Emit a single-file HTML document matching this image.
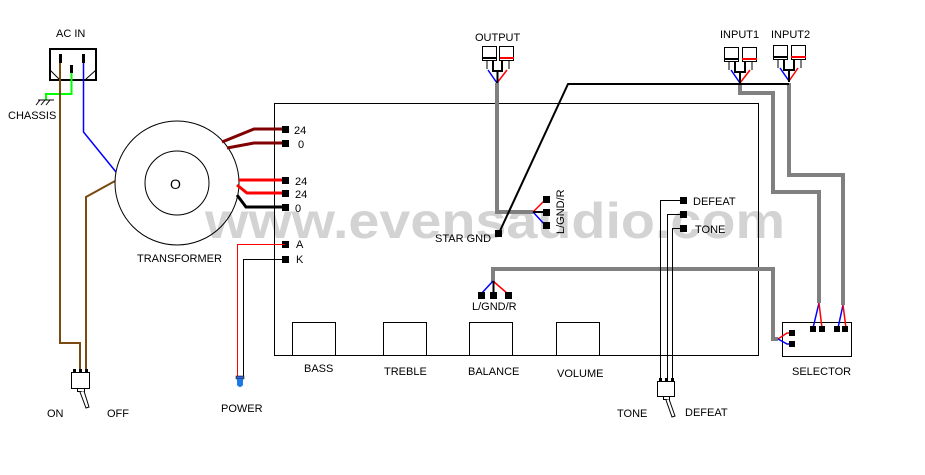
<!DOCTYPE html>
<html><head><meta charset="utf-8"><style>
html,body{margin:0;padding:0;background:#fff;}
svg{display:block;}
text{font-family:"Liberation Sans",sans-serif;font-size:11px;fill:#000;}
</style></head><body>
<svg width="925" height="475" viewBox="0 0 925 475" xmlns="http://www.w3.org/2000/svg">
<rect width="925" height="475" fill="#fff"/>
<!-- watermark -->
<text x="205" y="238" style="font-size:50px;font-weight:bold;fill:#d3d3d3" textLength="580" lengthAdjust="spacingAndGlyphs">www.evensaudio.com</text>

<!-- main box -->
<rect x="274.5" y="103.5" width="484" height="252" fill="none" stroke="#000"/>
<!-- knobs -->
<g fill="none" stroke="#000">
<rect x="292.5" y="322.5" width="43" height="33"/>
<rect x="383.5" y="322.5" width="43" height="33"/>
<rect x="469.5" y="322.5" width="43" height="33"/>
<rect x="556.5" y="322.5" width="43" height="33"/>
</g>
<text x="304" y="372">BASS</text>
<text x="384" y="375">TREBLE</text>
<text x="468" y="375">BALANCE</text>
<text x="557" y="377">VOLUME</text>

<!-- AC IN -->
<text x="56" y="37">AC IN</text>
<rect x="50" y="49" width="46" height="31" fill="none" stroke="#000" stroke-width="2"/>
<path d="M50 70 L59 79 M96 70 L86 79" stroke="#000" fill="none"/>
<rect x="59" y="54" width="3" height="9" fill="#000"/>
<rect x="82" y="54" width="3" height="9" fill="#000"/>
<rect x="70" y="65" width="3" height="8" fill="#000"/>
<path d="M71.5 73 V94 H46 V100" stroke="#0f0" stroke-width="2" fill="none"/>
<path d="M38 100 H54 M40 100 L36 105 M45 100 L41 105 M50 100 L46 105" stroke="#000" fill="none"/>
<text x="8" y="119">CHASSIS</text>
<path d="M83.5 63 V132 L116 172" stroke="#00f" stroke-width="1.5" fill="none"/>
<path d="M60 63 V343 H80 V372" stroke="#7b4a12" stroke-width="2" fill="none"/>
<path d="M115 181 L86 197 V372" stroke="#7b4a12" stroke-width="2" fill="none"/>
<!-- left switch -->
<rect x="71.5" y="372.5" width="18" height="16" fill="#fff" stroke="#000"/>
<rect x="73" y="369" width="3" height="4" fill="#000"/><rect x="79" y="369" width="3" height="4" fill="#000"/><rect x="85" y="369" width="3" height="4" fill="#000"/>
<rect x="77.5" y="388.5" width="7" height="3" fill="#fff" stroke="#000"/>
<path d="M80 392 L86 408 L89 407 L84 391" fill="#fff" stroke="#000"/>
<text x="47" y="417">ON</text>
<text x="107" y="417">OFF</text>

<!-- transformer -->
<circle cx="177" cy="183" r="62" fill="none" stroke="#000"/>
<circle cx="177" cy="183" r="32" fill="none" stroke="#000"/>
<text x="170" y="189" style="font-size:14px">O</text>
<text x="137" y="262">TRANSFORMER</text>
<path d="M222 142 L254 129 H285" stroke="#800000" stroke-width="3" fill="none"/>
<path d="M227 148 L254 143 H285" stroke="#800000" stroke-width="3" fill="none"/>
<path d="M239 180 H285" stroke="#f00" stroke-width="3" fill="none"/>
<path d="M237 185 L247 193 H285" stroke="#f00" stroke-width="3" fill="none"/>
<path d="M237 195 L246 207 H285" stroke="#000" stroke-width="3" fill="none"/>
<g fill="#000">
<rect x="282" y="126" width="7" height="7"/><rect x="282" y="140" width="7" height="7"/>
<rect x="282" y="177" width="7" height="7"/><rect x="282" y="190" width="7" height="7"/><rect x="282" y="204" width="7" height="7"/>
<rect x="282" y="241" width="7" height="7"/><rect x="282" y="256" width="7" height="7"/>
</g>
<text x="294" y="134">24</text><text x="298" y="148">0</text>
<text x="295" y="185">24</text><text x="295" y="198">24</text><text x="295" y="212">0</text>
<text x="296" y="248">A</text><text x="296" y="263">K</text>
<!-- power -->
<path d="M285 244.5 H237.5 V378" stroke="#f00" fill="none"/>
<path d="M285 259.5 H243.5 V378" stroke="#000" fill="none"/>
<rect x="236" y="376" width="8" height="3" fill="#36c" stroke="#000" stroke-width="0.5"/>
<path d="M237 379 H243 V385 Q240 389 237 385 Z" fill="#1e7ae6"/>
<text x="221" y="412">POWER</text>

<!-- output jacks -->
<text x="475" y="41">OUTPUT</text>
<g stroke="#000" fill="#fff">
<rect x="482.5" y="46.5" width="14" height="14"/><rect x="499.5" y="46.5" width="14" height="14"/>
<rect x="724.5" y="47.5" width="14" height="14"/><rect x="742.5" y="47.5" width="14" height="14"/>
<rect x="773.5" y="45.5" width="14" height="14"/><rect x="791.5" y="45.5" width="14" height="14"/>
</g>
<g stroke-width="2">
<path d="M482 58 H497" stroke="#000"/><path d="M500 58 H514" stroke="#f00"/>
<path d="M724 59 H739" stroke="#000"/><path d="M742 59 H757" stroke="#f00"/>
<path d="M773 57 H788" stroke="#000"/><path d="M791 57 H806" stroke="#f00"/>
</g>
<g fill="none" stroke="#000">
<path d="M487 60 V69 M509 60 V69 M729 61 V70 M752 61 V70 M778 59 V68 M801 59 V68"/>
<path d="M493 60 V71 H502 V60 M735 61 V72 H745 V61 M784 59 V70 H794 V59" stroke-width="2"/>
</g>
<path d="M488 70 L497 83 M731 70 L740 83 M780 68 L789 81" stroke="#00f" stroke-width="1.5"/>
<path d="M507 70 L497 83 M750 70 L740 83 M798 68 L789 81" stroke="#f00" stroke-width="1.5"/>
<path d="M497.5 72 V83 M740 72 V84 M789 70 V82" stroke="#000" stroke-width="2"/>
<text x="720" y="38">INPUT1</text>
<text x="771" y="38">INPUT2</text>

<!-- gray shielded wires -->
<g fill="none" stroke="#808080" stroke-width="4">
<path d="M497 83 V212 H533"/>
<path d="M740 83 V93 H773 V192 H819 V303"/>
<path d="M789 83 V175 H843 V305"/>
<path d="M493 282 V269 H773 V339 H778"/>
</g>
<!-- star gnd black -->
<path d="M499 233 L568 84 H789" stroke="#000" stroke-width="2" fill="none"/>
<rect x="495" y="230" width="7" height="7" fill="#000"/>
<text x="435" y="242">STAR GND</text>

<!-- upper L/GND/R -->
<path d="M533 212 L546 199" stroke="#f00" stroke-width="1.5"/>
<path d="M533 212 L546 226" stroke="#00f" stroke-width="1.5"/>
<path d="M533 212 H546" stroke="#000" stroke-width="2"/>
<g fill="#000"><rect x="543" y="196" width="7" height="7"/><rect x="543" y="209" width="7" height="7"/><rect x="543" y="222" width="7" height="7"/></g>
<text transform="translate(564,234) rotate(-90)">L/GND/R</text>

<!-- lower L/GND/R -->
<path d="M493 281 L481 294" stroke="#00f" stroke-width="1.5"/>
<path d="M493 281 L508 294" stroke="#f00" stroke-width="1.5"/>
<path d="M493.5 281 V294" stroke="#000" stroke-width="2"/>
<g fill="#000"><rect x="478" y="292" width="7" height="7"/><rect x="490" y="292" width="7" height="7"/><rect x="505" y="292" width="7" height="7"/></g>
<text x="472" y="310">L/GND/R</text>

<!-- tone/defeat -->
<g fill="#000"><rect x="680" y="197" width="7" height="7"/><rect x="680" y="211" width="7" height="7"/><rect x="680" y="225" width="7" height="7"/></g>
<text x="693" y="205">DEFEAT</text>
<text x="695" y="233">TONE</text>
<path d="M680 200.5 H660.5 V381 M680 214.5 H667.5 V381 M680 228.5 H672.5 V381" stroke="#000" fill="none"/>
<rect x="657.5" y="381.5" width="17" height="15" fill="#fff" stroke="#000"/>
<rect x="659" y="378" width="3" height="4" fill="#000"/><rect x="665" y="378" width="3" height="4" fill="#000"/><rect x="671" y="378" width="3" height="4" fill="#000"/>
<rect x="663.5" y="396.5" width="6" height="3" fill="#fff" stroke="#000"/>
<path d="M666 400 L672 417 L675 416 L669 399" fill="#fff" stroke="#000"/>
<text x="617" y="417">TONE</text>
<text x="685" y="416">DEFEAT</text>

<!-- selector -->
<rect x="782.5" y="322.5" width="69" height="34" fill="none" stroke="#000"/>
<path d="M819 303 L813 328 M843 305 L838 328" stroke="#00f" stroke-width="1.5"/>
<path d="M819 303 L822 328 M843 305 L846 328" stroke="#f00" stroke-width="1.5"/>
<path d="M778 339 L787 333 H791" stroke="#f00" stroke-width="1.5" fill="none"/>
<path d="M778 339 L787 344 H791" stroke="#00f" stroke-width="1.5" fill="none"/>
<g fill="#000">
<rect x="789" y="330" width="6" height="6"/><rect x="789" y="341" width="6" height="6"/>
<rect x="810" y="326" width="6" height="6"/><rect x="819" y="326" width="6" height="6"/>
<rect x="834" y="326" width="6" height="6"/><rect x="842" y="326" width="6" height="6"/>
</g>
<text x="792" y="375">SELECTOR</text>
</svg>
</body></html>
